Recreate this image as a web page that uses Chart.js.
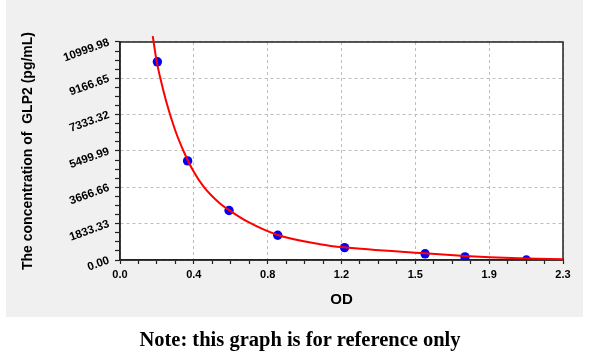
<!DOCTYPE html>
<html>
<head>
<meta charset="utf-8">
<script src="https://cdn.jsdelivr.net/npm/chart.js@4"></script>
<style>
  html, body { margin: 0; padding: 0; background: #ffffff; }
  #wrap { position: relative; width: 600px; height: 355px; overflow: hidden; }
  #c { position: absolute; left: 0; top: 0; }
  #note { position: absolute; left: 0; top: 329px; width: 600px; text-align: center;
          font: bold 20.5px "Liberation Serif", "Times New Roman", serif; line-height: 1; color: #000; }
</style>
</head>
<body>
<div id="wrap">
  <canvas id="c" width="600" height="355"></canvas>
  <div id="note">Note: this graph is for reference only</div>
</div>
<script>
// ---- data ----
const X_LABELS = ['0.0', '0.4', '0.8', '1.2', '1.5', '1.9', '2.3'];
const Y_LABELS = ['0.00', '1833.33', '3666.66', '5499.99', '7333.32', '9166.65', '10999.98'];
const X_MAX = 2.3;
const Y_MAX = 10999.98;

// standards (blue points)
const STD_OD   = [0.194, 0.351, 0.566, 0.819, 1.166, 1.584, 1.791, 2.110];
const STD_CONC = [10000, 5000, 2500, 1250, 625, 312.5, 156.25, 0];

// fitted curve (red line), estimated along the drawn curve
const FIT_OD   = [0.170, 0.190, 0.208, 0.240, 0.286, 0.332, 0.380, 0.434, 0.519, 0.566, 0.665, 0.819, 1.038, 1.163, 1.584, 1.791, 1.921, 2.108, 2.300];
const FIT_CONC = [11300, 10050, 9230, 8000, 6560, 5450, 4500, 3700, 2850, 2520, 1920, 1262, 800, 640, 338, 202, 140, 75, 35];

const FONT = '"Liberation Sans", Arial, sans-serif';
const MINOR = 4; // subdivisions per major step

const panelPlugin = {
  id: 'panel',
  beforeDraw(chart) {
    const ctx = chart.ctx, a = chart.chartArea;
    ctx.save();
    ctx.fillStyle = '#ffffff';
    ctx.fillRect(0, 0, chart.width, chart.height);
    ctx.fillStyle = '#f0f0f0';
    ctx.fillRect(6, 0, 577, 317);
    ctx.fillStyle = '#ffffff';
    ctx.fillRect(a.left, a.top, a.right - a.left, a.bottom - a.top);
    ctx.restore();
  },
  beforeDatasetsDraw(chart) {
    const ctx = chart.ctx, a = chart.chartArea;
    ctx.save();
    ctx.strokeStyle = '#222222';
    ctx.lineWidth = 1.5;
    ctx.strokeRect(a.left, a.top, a.right - a.left, a.bottom - a.top);
    ctx.restore();
  }
};

function buildTicks(max, labelsLen) {
  const n = (labelsLen - 1) * MINOR;
  return s => { s.ticks = Array.from({length: n + 1}, (_, i) => ({value: max * i / n})); };
}

new Chart(document.getElementById('c'), {
  type: 'scatter',
  data: {
    datasets: [
      {
        label: 'Fit',
        data: FIT_OD.map((x, i) => ({x, y: FIT_CONC[i]})),
        showLine: true,
        borderColor: '#ff0000',
        borderWidth: 2,
        pointRadius: 0,
        fill: false,
        cubicInterpolationMode: 'monotone',
        clip: false,
        order: 0
      },
      {
        label: 'Standards',
        data: STD_OD.map((x, i) => ({x, y: STD_CONC[i]})),
        backgroundColor: '#0000ff',
        borderWidth: 0,
        pointRadius: 4.7,
        order: 1
      }
    ]
  },
  options: {
    responsive: false,
    animation: false,
    devicePixelRatio: 1,
    layout: { padding: { left: 0, top: 42, right: 37, bottom: 0 } },
    plugins: { legend: { display: false }, tooltip: { enabled: false } },
    scales: {
      x: {
        type: 'linear', min: 0, max: X_MAX,
        afterBuildTicks: buildTicks(X_MAX, X_LABELS.length),
        afterFit: s => { s.height = 95; },
        ticks: {
          autoSkip: false, minRotation: 0, maxRotation: 0, padding: 4, color: '#000',
          font: { family: FONT, size: 11, weight: 'bold' },
          callback: (v, i) => (i % MINOR === 0 ? X_LABELS[i / MINOR] : '')
        },
        grid: {
          color: c => (c.index % MINOR === 0 ? '#bdbdbd' : 'rgba(0,0,0,0)'),
          lineWidth: 1, tickLength: 4, tickColor: '#222', tickWidth: 1.2
        },
        border: { display: true, color: '#222', width: 1.5, dash: [3, 3] },
        title: {
          display: true, text: 'OD', color: '#000',
          font: { family: FONT, size: 15, weight: 'bold' },
          padding: { top: 0, bottom: 46 }
        }
      },
      y: {
        type: 'linear', min: 0, max: Y_MAX,
        afterBuildTicks: buildTicks(Y_MAX, Y_LABELS.length),
        afterFit: s => { s.width = 120; },
        ticks: {
          autoSkip: false, minRotation: 20, maxRotation: 20, padding: 6, color: '#000',
          font: { family: FONT, size: 11.5, weight: 'bold' },
          callback: (v, i) => (i % MINOR === 0 ? Y_LABELS[i / MINOR] : '')
        },
        grid: {
          color: c => (c.index % MINOR === 0 ? '#bdbdbd' : 'rgba(0,0,0,0)'),
          lineWidth: 1, tickLength: 5, tickColor: '#222', tickWidth: 1.2
        },
        border: { display: true, color: '#222', width: 1.5, dash: [3, 3] },
        title: {
          display: true, text: 'The concentration of  GLP2 (pg/mL)', color: '#000',
          font: { family: FONT, size: 14, weight: 'bold' },
          padding: { top: 20, bottom: 0 }
        }
      }
    }
  },
  plugins: [panelPlugin]
});
</script>
</body>
</html>
